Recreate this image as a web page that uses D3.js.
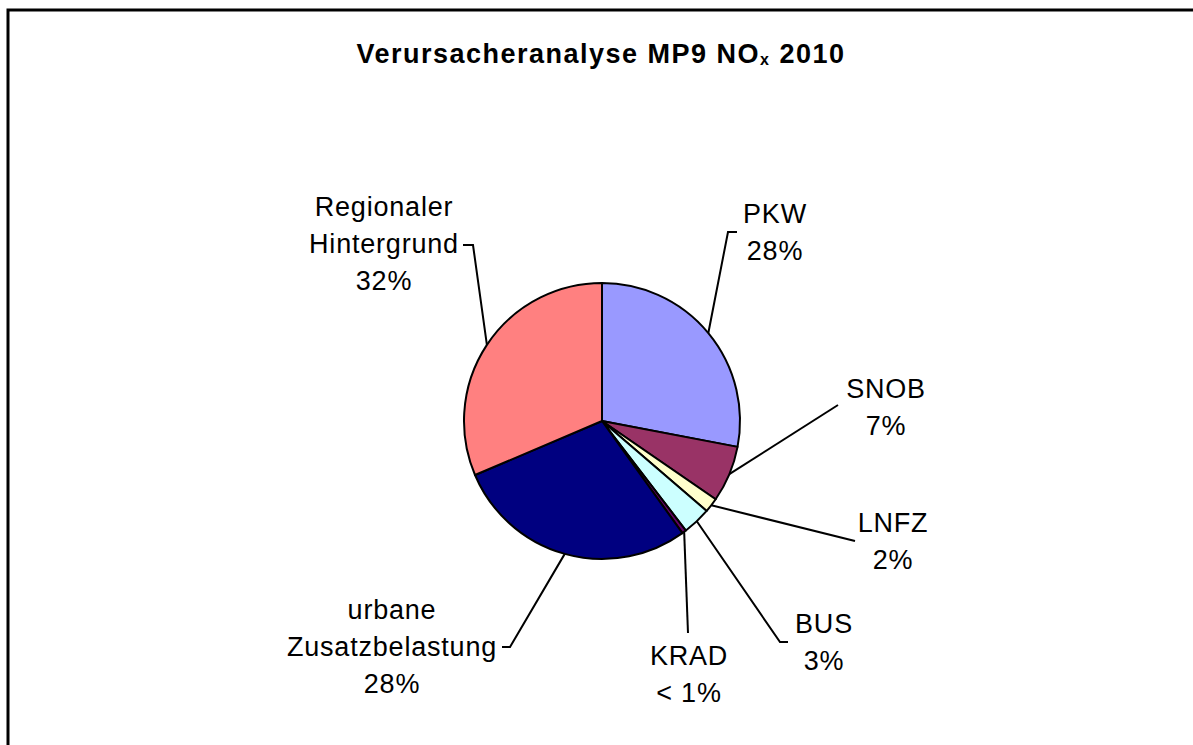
<!DOCTYPE html>
<html>
<head>
<meta charset="utf-8">
<script src="https://cdn.jsdelivr.net/npm/d3@7"></script>
<style>
  body { margin: 0; background: #fff; }
  text { font-family: "Liberation Sans", Arial, sans-serif; fill: #000; }
</style>
</head>
<body>
<div id="chart-area"></div>
<script>
// data, clockwise from 12 o'clock
const categories = ["PKW", "SNOB", "LNFZ", "BUS", "KRAD", "urbane Zusatzbelastung", "Regionaler Hintergrund"];
const values = [28.0, 6.6, 1.7, 3.3, 0.5, 28.5, 31.4];
const pctLabels = ["28%", "7%", "2%", "3%", "< 1%", "28%", "32%"];
const labelLines = [["PKW"], ["SNOB"], ["LNFZ"], ["BUS"], ["KRAD"], ["urbane", "Zusatzbelastung"], ["Regionaler", "Hintergrund"]];

const colors = ["#9999FF", "#993366", "#FFFFCC", "#CCFFFF", "#660066", "#000080", "#FF8080"];

// label layout: text centre x, first baseline y, leader line points (after the pie edge)
const labelLayout = [
  { x: 775, y: 223, leader: [[728, 232], [737, 232]] },
  { x: 886, y: 398, leader: [[838, 405]] },
  { x: 893, y: 532, leader: [[855, 541]] },
  { x: 824, y: 633, leader: [[780, 642], [788, 642]] },
  { x: 689, y: 665, leader: [[688, 633]] },
  { x: 392, y: 619, leader: [[510, 647], [502, 647]] },
  { x: 384, y: 216, leader: [[473, 245], [463, 245]] }
];

const width = 1193, height = 745;
const cx = 602, cy = 421, radius = 138;
const lineH = 37;

const svg = d3.select("#chart-area")
  .append("svg")
  .attr("width", width)
  .attr("height", height);

// frame (runs off the right and bottom edges)
svg.append("rect")
  .attr("x", 8)
  .attr("y", 10)
  .attr("width", 1400)
  .attr("height", 1000)
  .attr("fill", "none")
  .attr("stroke", "#000")
  .attr("stroke-width", 3);

// title
const title = svg.append("text")
  .attr("x", 601)
  .attr("y", 63)
  .attr("text-anchor", "middle")
  .attr("font-size", "27px")
  .attr("font-weight", "bold")
  .attr("letter-spacing", "1.5px");
title.append("tspan").text("Verursacheranalyse MP9 NO");
title.append("tspan").attr("font-size", "16px").attr("dy", 2).text("x");
title.append("tspan").attr("dy", -2).text(" 2010");

const pie = d3.pie().sort(null).value(d => d)(values);
const arc = d3.arc().innerRadius(0).outerRadius(radius);

const g = svg.append("g")
  .attr("transform", `translate(${cx}, ${cy})`);

g.selectAll("path.slice")
  .data(pie)
  .enter()
  .append("path")
  .attr("class", "slice")
  .attr("d", arc)
  .attr("fill", (d, i) => colors[i])
  .attr("stroke", "#000")
  .attr("stroke-width", 2)
  .attr("stroke-linejoin", "round");

// leader lines
const line = d3.line();
pie.forEach((d, i) => {
  const a = (d.startAngle + d.endAngle) / 2;
  const start = [cx + radius * Math.sin(a), cy - radius * Math.cos(a)];
  const pts = [start].concat(labelLayout[i].leader);
  svg.append("path")
    .attr("d", line(pts))
    .attr("fill", "none")
    .attr("stroke", "#000")
    .attr("stroke-width", 2);
});

// labels
categories.forEach((c, i) => {
  const lay = labelLayout[i];
  const lines = labelLines[i].concat([pctLabels[i]]);
  const t = svg.append("text")
    .attr("text-anchor", "middle")
    .attr("font-size", "27px")
    .attr("letter-spacing", "0.8px");
  lines.forEach((s, k) => {
    t.append("tspan")
      .attr("x", lay.x)
      .attr("y", lay.y + k * lineH)
      .text(s);
  });
});
</script>
</body>
</html>
